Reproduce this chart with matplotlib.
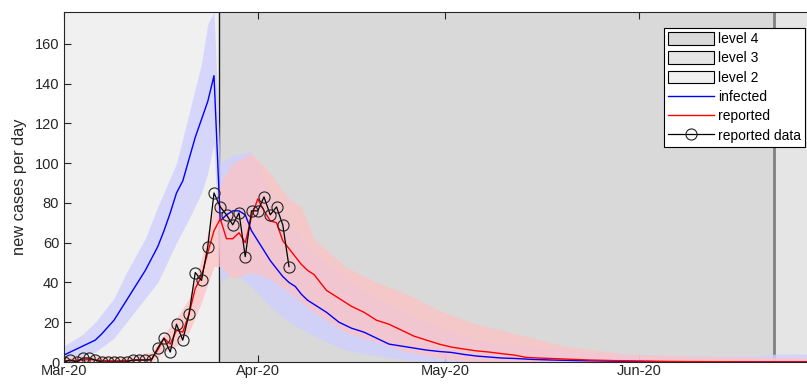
import matplotlib
matplotlib.use("Agg")
import matplotlib.pyplot as plt
from matplotlib.patches import Patch
from matplotlib.lines import Line2D

plt.rcParams['font.family'] = ['Liberation Sans', 'DejaVu Sans']

# ---- data (days since 1 Mar 2020) ----
month_ticks = [0, 31, 61, 92]
month_labels = ["Mar-20", "Apr-20", "May-20", "Jun-20"]
y_ticks = [0, 20, 40, 60, 80, 100, 120, 140, 160]

level4_start = 24.8
level3_start = 113.6

reported_days = list(range(37))
reported_vals = [0, 1, 0, 2, 2, 1, 0, 0, 0, 0, 0, 1, 1, 1, 1, 7, 12, 5, 19, 11,
                 24, 45, 41, 58, 85, 78, 74, 69, 75, 53, 76, 76, 83, 74, 78, 69, 48]

infected_days = [0, 1, 2, 3, 4, 5, 6, 7, 8, 9, 10, 11, 12, 13, 14, 15, 16, 17, 18, 19,
                 20, 21, 22, 23, 24, 25, 26, 27, 28, 29, 30, 31, 32, 33, 34, 35, 36, 37,
                 38, 39, 40, 42, 44, 46, 48, 50, 52, 54, 56, 58, 60, 62, 64, 66, 68, 70,
                 72, 75, 78, 82, 86, 90, 95, 100, 110, 120]
infected_mean = [3.5, 5, 6.5, 8, 9.5, 11, 14, 17.5, 21, 26, 31, 36, 41, 46, 52, 58, 66, 75,
                 85, 91, 102, 113, 122, 131, 144, 71, 74, 76, 76, 74, 66, 61, 56, 51, 47,
                 43, 40, 38, 34, 31, 29, 25, 20, 17, 15, 12, 9, 8, 7, 6, 5.3, 4.8, 3.8,
                 3, 2.5, 2, 1.8, 1.3, 1, 0.7, 0.5, 0.3, 0.2, 0.1, 0.1, 0.1]

reported_model_days = [0, 1, 2, 3, 4, 5, 6, 7, 8, 9, 10, 11, 12, 13, 14, 15, 16, 17, 18,
                       19, 20, 21, 22, 23, 24, 25, 26, 27, 28, 29, 30, 31, 32, 33, 34, 35,
                       36, 37, 38, 39, 40, 41, 42, 43, 44, 46, 48, 50, 52, 54, 56, 58, 60,
                       62, 64, 66, 68, 70, 72, 74, 76, 80, 84, 88, 92, 96, 100, 110, 120]
reported_mean = [0.5, 0.8, 0.8, 1, 1.2, 1, 0.8, 0.6, 0.6, 0.6, 0.7, 0.8, 1, 1, 1.5, 6, 12,
                 9, 16, 15, 24, 37, 43, 55, 66, 72, 62, 62, 65, 60, 73, 82, 76, 71, 70, 61,
                 57, 53, 49, 46, 44, 40, 36, 34, 32, 28, 25, 21, 19, 16, 13, 11, 9, 7.5,
                 6.5, 5.6, 5, 4.2, 3.5, 2.3, 2, 1.5, 1, 0.7, 0.5, 0.3, 0.2, 0.1, 0.1]

# simulation envelopes (ensemble spread)
inf_env_days = [0, 3, 5, 8, 10, 13, 15, 18, 20, 22, 23, 24, 25, 27, 30, 33, 36, 40, 45,
                50, 55, 60, 65, 70, 80, 90, 100, 110, 114, 120]
inf_env_hi = [8, 14, 20, 32, 45, 62, 78, 100, 125, 150, 170, 176, 100, 104, 106, 85, 70,
              55, 42, 32, 24, 18, 12, 9, 6, 4, 3, 3, 4, 4]
inf_env_lo = [0, 3, 5, 12, 20, 32, 40, 60, 72, 85, 95, 110, 40, 45, 38, 28, 20, 13, 6,
              3, 1, 0, 0, 0, 0, 0, 0, 0, 0, 0]

rep_env_days = [0, 10, 14, 16, 18, 20, 22, 24, 25, 27, 30, 33, 36, 38, 40, 45, 50, 55,
                60, 65, 70, 75, 80, 85, 90, 100, 120]
rep_env_hi = [3, 3, 5, 14, 22, 32, 52, 78, 90, 100, 105, 95, 82, 78, 62, 48, 40, 34, 26,
              20, 16, 12, 8, 6, 4, 3, 2]
rep_env_lo = [0, 0, 0, 5, 8, 15, 30, 48, 48, 42, 45, 42, 35, 30, 25, 15, 10, 5, 2, 0, 0,
              0, 0, 0, 0, 0, 0]

# ---- figure ----
W, H = 807, 387
fig = plt.figure(figsize=(W / 100, H / 100), dpi=100)
ax = fig.add_axes([64 / W, 25 / H, 750 / W, 350 / H])
xmax = 120
ax.set_xlim(0, xmax)
ax.set_ylim(0, 176)

c_l2, c_l4, c_l3 = '#f0f0f0', '#d9d9d9', '#e5e5e5'
ax.axvspan(0, level4_start, color=c_l2, lw=0, zorder=0)
ax.axvspan(level4_start, level3_start, color=c_l4, lw=0, zorder=0)
ax.axvspan(level3_start, xmax, color=c_l3, lw=0, zorder=0)
ax.axvline(level4_start, color='#1a1a1a', lw=1.0, zorder=1)
ax.axvline(level3_start, color='#808080', lw=2.0, zorder=1)

ax.fill_between(inf_env_days, inf_env_lo, inf_env_hi, color='#d0d0ff', alpha=0.8,
                lw=0, zorder=2)
ax.fill_between(rep_env_days, rep_env_lo, rep_env_hi, color='#ffc2c2', alpha=0.72,
                lw=0, zorder=3)

ax.plot(infected_days, infected_mean, color='#0000ff', lw=1.0, zorder=4)
ax.plot(reported_model_days, reported_mean, color='#ff0000', lw=1.0, zorder=5)
ax.plot(reported_days, reported_vals, color='black', lw=0.9, marker='o', ms=8,
        mfc='none', mec='#222222', mew=0.8, zorder=6)

ax.set_xticks(month_ticks)
ax.set_xticklabels(month_labels)
ax.set_yticks(y_ticks)
ax.tick_params(direction='in', top=True, right=True, length=5, width=0.8,
               colors='#262626', labelsize=10.5)
ax.tick_params(axis='x', pad=1.5)
ax.tick_params(axis='y', pad=3.5)
for s in ax.spines.values():
    s.set_color('#262626')
    s.set_linewidth(0.8)
    s.set_zorder(7)
ax.set_ylabel('new cases per day', fontsize=11.8, color='#262626', labelpad=5.5)

handles = [Patch(facecolor=c_l4, edgecolor='black', lw=0.8),
           Patch(facecolor=c_l3, edgecolor='black', lw=0.8),
           Patch(facecolor=c_l2, edgecolor='black', lw=0.8),
           Line2D([], [], color='#0000ff', lw=1.0),
           Line2D([], [], color='#ff0000', lw=1.0),
           Line2D([], [], color='black', lw=0.9, marker='o', ms=8, mfc='none',
                  mec='#222222', mew=0.8)]
labels = ['level 4', 'level 3', 'level 2', 'infected', 'reported', 'reported data']
leg = ax.legend(handles, labels, loc='upper right',
                bbox_to_anchor=(805 / W, 1 - 28 / H), bbox_transform=fig.transFigure,
                borderaxespad=0, fancybox=False, framealpha=1, edgecolor='black',
                fontsize=10, handlelength=3.3, handleheight=1.0, labelspacing=0.38,
                handletextpad=0.3, borderpad=0.3)
leg.get_frame().set_linewidth(0.8)
leg.set_zorder(10)

fig.savefig('out.png', dpi=100)
